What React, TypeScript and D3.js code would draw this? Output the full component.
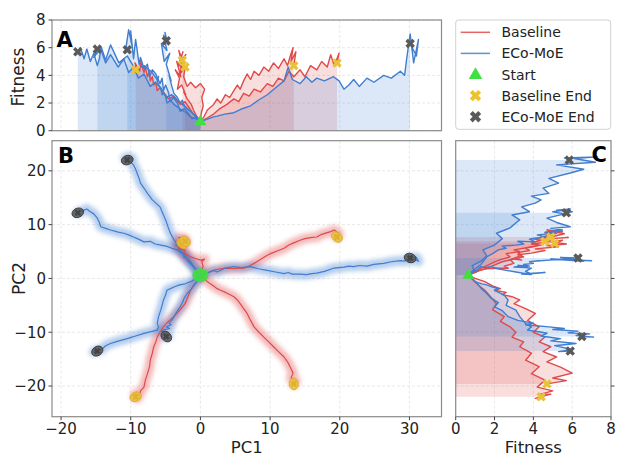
import React from 'react';
import * as d3 from 'd3';

type Pt = [number, number, number]; // [pc1, pc2, fitness]

// Baseline runs
const baselineRun1: Pt[] = [
  [0, 0.6, 0.65], [-0.5, -0.5, 0.95], [-1.0, -1.3, 1.2], [-1.4, -2.2, 1.5], [-1.8, -3.4, 1.8],
  [-2.2, -4.7, 2.1], [-2.9, -5.8, 1.9], [-3.8, -7.1, 2.5], [-4.6, -8.0, 2.3], [-5.3, -9.0, 2.8],
  [-5.8, -10.0, 3.1], [-6.2, -10.9, 2.9], [-6.4, -11.8, 3.5], [-6.7, -12.7, 3.3], [-6.9, -13.9, 3.9],
  [-7.2, -15.2, 3.6], [-7.3, -16.4, 4.3], [-7.6, -17.7, 3.9], [-7.9, -18.9, 4.6], [-8.1, -20.2, 4.2],
  [-8.6, -20.9, 5.0], [-8.7, -21.6, 4.3], [-9.4, -21.5, 4.9], [-9.0, -22.3, 4.1], [-9.3, -22.0, 4.4],
];
const baselineRun2: Pt[] = [
  [0, 0.6, 0.65], [0.1, 1.4, 1.2], [0.4, 2.2, 1.8], [0.2, 3.1, 2.4], [0.6, 3.6, 3.0], [0.0, 3.4, 3.4],
  [-0.7, 3.7, 3.1], [-1.4, 4.0, 3.5], [-1.9, 4.4, 3.2], [-2.4, 4.7, 3.9], [-2.2, 5.2, 4.6], [-2.9, 5.5, 4.1],
  [-2.6, 5.9, 5.3], [-3.2, 6.1, 4.7], [-2.5, 6.4, 5.7], [-3.0, 6.8, 4.9], [-2.1, 7.1, 5.5], [-2.6, 6.5, 5.1],
];
const baselineRun3: Pt[] = [
  [0, 0.6, 0.65], [-0.5, 1.4, 1.0], [-1.0, 2.2, 1.5], [-1.3, 2.9, 1.9], [-1.9, 3.5, 2.3], [-2.4, 4.0, 2.8],
  [-2.1, 4.6, 2.6], [-2.7, 5.0, 3.3], [-3.3, 5.3, 3.0], [-3.0, 5.8, 3.8], [-3.6, 6.2, 4.4], [-2.8, 6.4, 3.9],
  [-3.4, 6.9, 5.0], [-2.5, 7.3, 4.4], [-3.1, 7.6, 5.8], [-2.4, 7.4, 4.8], [-2.2, 6.9, 4.6],
];
const baselineRun4: Pt[] = [
  [0, 0.6, 0.65], [0.9, 1.0, 0.9], [1.9, 1.5, 1.2], [2.8, 1.8, 1.6], [3.8, 1.9, 1.9], [4.8, 1.8, 2.3],
  [5.5, 1.9, 2.1], [6.2, 1.9, 2.7], [7.0, 2.3, 2.5], [7.7, 2.8, 3.0], [8.6, 3.5, 2.8], [9.6, 4.3, 3.4],
  [10.4, 4.8, 3.2], [11.2, 5.2, 3.8], [12.0, 5.6, 3.6], [12.7, 6.2, 4.3], [13.4, 6.6, 3.9], [14.3, 7.1, 4.4],
  [15.0, 7.4, 3.9], [15.8, 7.6, 4.7], [16.7, 7.7, 4.4], [17.4, 8.2, 5.0], [18.2, 8.5, 4.6], [18.7, 8.7, 5.5],
  [19.2, 9.0, 4.7], [19.9, 8.3, 5.6], [19.6, 7.7, 4.9],
];
const baselineRun5: Pt[] = [
  [0, 0.6, 0.65], [0.5, 0.0, 1.0], [1.0, -0.6, 1.5], [1.9, -1.4, 1.9], [2.4, -1.9, 2.3], [2.9, -2.2, 2.0],
  [3.6, -2.6, 2.6], [4.2, -3.0, 2.4], [4.8, -3.4, 2.9], [5.3, -4.0, 3.3], [5.7, -4.7, 3.0], [6.2, -5.6, 3.6],
  [6.7, -6.5, 4.1], [7.2, -7.8, 3.7], [7.7, -9.0, 4.3], [8.4, -10.0, 4.0], [9.1, -10.9, 4.6], [9.8, -11.8, 4.3],
  [10.5, -12.7, 4.9], [11.2, -13.6, 4.5], [12.0, -14.6, 5.2], [12.5, -15.5, 4.7], [12.9, -16.5, 5.4],
  [13.3, -17.6, 6.0], [13.0, -18.5, 5.0], [13.7, -19.0, 5.7], [13.4, -19.6, 4.7],
];

// ECo-MoE runs
const ecoRun1: Pt[] = [
  [0, 0.6, 0.65], [-0.6, 1.5, 0.95], [-1.2, 2.4, 0.85], [-1.8, 3.2, 1.3], [-2.3, 4.2, 1.6], [-2.9, 5.3, 1.4],
  [-3.3, 6.2, 2.0], [-3.9, 7.4, 2.4], [-4.3, 8.4, 2.1], [-4.6, 9.4, 2.8], [-5.0, 10.9, 3.3], [-5.3, 11.8, 2.9],
  [-5.5, 12.4, 3.8], [-5.8, 13.3, 3.4], [-6.4, 14.0, 4.1], [-6.9, 14.6, 4.4], [-7.3, 15.3, 3.9], [-7.6, 15.8, 4.8],
  [-8.1, 16.8, 4.5], [-8.6, 17.7, 5.3], [-8.8, 18.6, 4.8], [-9.1, 19.6, 5.9], [-9.3, 20.3, 6.6], [-9.6, 21.1, 5.2],
  [-10.0, 21.6, 7.2], [-9.8, 22.3, 6.1], [-10.3, 22.6, 7.3], [-10.8, 22.4, 5.6], [-10.5, 22.0, 5.85],
];
const ecoRun2: Pt[] = [
  [0, 0.6, 0.65], [-0.5, 1.5, 0.9], [-1.2, 2.6, 1.3], [-1.9, 4.0, 1.6], [-2.6, 4.6, 1.9], [-3.3, 5.3, 2.2],
  [-4.1, 5.6, 2.6], [-4.9, 6.0, 2.4], [-5.7, 6.2, 3.1], [-6.5, 6.4, 3.5], [-7.2, 6.9, 3.2], [-8.1, 6.8, 4.1],
  [-8.9, 7.3, 3.8], [-9.6, 7.7, 4.6], [-10.3, 8.1, 4.2], [-11.0, 8.4, 5.2], [-11.8, 8.6, 4.6], [-12.9, 9.0, 5.5],
  [-13.6, 9.3, 4.9], [-14.3, 9.6, 5.9], [-14.5, 10.4, 5.2], [-14.8, 11.2, 4.7], [-15.3, 12.0, 5.6],
  [-15.8, 12.4, 5.0], [-16.3, 12.9, 5.9], [-16.7, 12.7, 5.2], [-17.2, 12.4, 6.0], [-17.6, 12.2, 5.7],
];
const ecoRun3: Pt[] = [
  [0, 0.6, 0.65], [0.8, 0.9, 0.8], [1.9, 1.5, 1.0], [2.4, 1.2, 1.05], [3.5, 1.9, 1.2], [4.8, 2.2, 1.3],
  [5.8, 2.0, 1.55], [7.2, 2.2, 1.8], [8.3, 1.8, 2.2], [9.6, 1.5, 2.6], [10.8, 1.2, 3.1], [12.0, 0.9, 3.6],
  [12.6, 1.1, 4.6], [13.2, 0.8, 3.7], [14.3, 0.8, 3.4], [15.2, 0.7, 3.9], [16.0, 0.9, 3.5], [16.7, 1.0, 3.8],
  [17.8, 1.3, 3.6], [19.1, 1.9, 3.9], [19.9, 2.0, 3.6], [20.6, 2.1, 3.0], [21.3, 2.3, 3.3], [22.0, 2.2, 3.7],
  [22.8, 2.4, 3.2], [23.9, 2.3, 3.8], [24.9, 2.6, 3.5], [26.3, 2.8, 4.0], [27.4, 3.1, 3.8], [28.7, 3.3, 4.3],
  [29.3, 3.2, 4.0], [29.6, 3.5, 5.2], [30.1, 3.3, 7.0], [30.6, 3.6, 4.9], [31.3, 3.2, 6.6], [31.0, 3.9, 5.4],
  [30.1, 3.8, 6.3],
];
const ecoRun4: Pt[] = [
  [0, 0.6, 0.65], [-0.3, -0.2, 0.9], [-0.7, -0.9, 1.1], [-1.2, -1.8, 1.3], [-1.9, -2.8, 1.6], [-2.3, -3.6, 1.8],
  [-2.6, -4.5, 2.2], [-2.9, -5.3, 2.0], [-3.3, -6.0, 2.4], [-3.8, -7.1, 2.7], [-4.1, -7.8, 3.2], [-4.5, -8.3, 4.0],
  [-4.2, -8.6, 3.6], [-4.9, -9.0, 4.8], [-4.4, -9.3, 5.6], [-5.2, -9.5, 5.0], [-5.6, -9.8, 6.3], [-4.8, -10.1, 5.8],
  [-5.3, -10.3, 6.9], [-4.6, -10.6, 6.2], [-5.1, -10.9, 7.1], [-4.9, -10.8, 6.5],
];
const ecoRun5: Pt[] = [
  [0, 0.6, 0.65], [-0.6, 0.0, 0.85], [-1.4, -0.6, 1.0], [-2.2, -1.0, 1.35], [-3.0, -1.2, 1.6], [-3.8, -1.6, 1.9],
  [-4.3, -1.9, 2.2], [-4.8, -2.2, 2.0], [-5.0, -3.1, 2.5], [-5.3, -4.0, 2.7], [-5.5, -5.0, 2.6], [-5.7, -5.9, 3.1],
  [-6.0, -7.1, 3.3], [-6.2, -8.4, 3.6], [-6.0, -9.0, 3.9], [-6.2, -9.6, 3.7], [-7.1, -9.9, 4.3], [-8.1, -10.2, 4.7],
  [-9.3, -10.7, 4.4], [-10.5, -11.2, 5.4], [-11.7, -11.6, 4.9], [-12.9, -12.1, 6.2], [-13.6, -12.5, 5.1],
  [-14.2, -13.2, 6.0], [-15.3, -13.6, 5.3], [-14.8, -13.5, 5.9],
];

const startPoint: Pt = [0, 0.6, 0.65];
const baselineRuns = [baselineRun1, baselineRun2, baselineRun3, baselineRun4, baselineRun5];
const ecoRuns = [ecoRun1, ecoRun2, ecoRun3, ecoRun4, ecoRun5];

const pc1Ticks = [-20, -10, 0, 10, 20, 30];
const pc2Ticks = [-20, -10, 0, 10, 20];
const fitnessTicks = [0, 2, 4, 6, 8];
const legendLabels = ['Baseline', 'ECo-MoE', 'Start', 'Baseline End', 'ECo-MoE End'];

const RED = '#e04a4a';
const BLUE = '#3f7ed0';
const YELLOW = '#e8c237';
const GRAY = '#5a5a5a';
const GREEN = '#3fe03f';
const FONT = 'DejaVu Sans, sans-serif';

const xPc1 = d3.scaleLinear().domain([-21.3, 34.6]).range([52, 441.5]);
const yFitA = d3.scaleLinear().domain([0, 8]).range([130.7, 20]);
const yPc2 = d3.scaleLinear().domain([-25.7, 25.6]).range([416.7, 140.7]);
const xFitC = d3.scaleLinear().domain([0, 8]).range([455.7, 611]);

const minus = (v: number) => String(v).replace('-', '\u2212');

// filled "X" marker like matplotlib's 'X'
function xMarker(cx: number, cy: number, s: number) {
  const w = 0.34;
  const pts = [[w, 1], [w, w], [1, w], [1, -w], [w, -w], [w, -1], [-w, -1], [-w, -w], [-1, -w], [-1, w], [-w, w], [-w, 1]];
  return 'M' + pts.map(([x, y]) => `${cx + (s * (x - y)) / Math.SQRT2},${cy + (s * (x + y)) / Math.SQRT2}`).join('L') + 'Z';
}

const triangle = d3.symbol(d3.symbolTriangle, 62)();

export default function App() {
  const lineA = d3.line<Pt>().x((d) => xPc1(d[0])).y((d) => yFitA(d[2]));
  const areaA = d3.area<Pt>().x((d) => xPc1(d[0])).y0(yFitA(0)).y1((d) => yFitA(d[2]));
  const lineB = d3.line<Pt>().x((d) => xPc1(d[0])).y((d) => yPc2(d[1]));
  const lineC = d3.line<Pt>().x((d) => xFitC(d[2])).y((d) => yPc2(d[1]));
  const areaC = d3.area<Pt>().y((d) => yPc2(d[1])).x0(xFitC(0)).x1((d) => xFitC(d[2]));

  const runs = [
    ...baselineRuns.map((pts) => ({ pts, color: RED, end: YELLOW })),
    ...ecoRuns.map((pts) => ({ pts, color: BLUE, end: GRAY })),
  ];

  const [ax0, ax1] = xPc1.range();
  const [ay1, ay0] = yFitA.range();
  const [by1, by0] = yPc2.range();
  const [cx0, cx1] = xFitC.range();

  const grid = { stroke: '#e2e2e2', strokeWidth: 0.8, strokeDasharray: '3,2' };
  const spine = { fill: 'none', stroke: '#8a8a8a', strokeWidth: 1.2 };
  const tickStyle = { stroke: '#444', strokeWidth: 1 };

  return (
    <svg width={621} height={457} style={{ position: 'absolute', left: 0, top: 0 }} fontFamily={FONT}>
      <defs>
        <clipPath id="clipA"><rect x={ax0} y={ay0} width={ax1 - ax0} height={ay1 - ay0} /></clipPath>
        <clipPath id="clipB"><rect x={ax0} y={by0} width={ax1 - ax0} height={by1 - by0} /></clipPath>
        <clipPath id="clipC"><rect x={cx0} y={by0} width={cx1 - cx0} height={by1 - by0} /></clipPath>
        <filter id="halo" x="-10%" y="-10%" width="120%" height="120%">
          <feGaussianBlur stdDeviation="2.2" />
        </filter>
      </defs>
      <rect width={621} height={457} fill="#fff" />

      {/* ---------- Panel A ---------- */}
      <g>
        {fitnessTicks.map((t) => (
          <line key={'ag' + t} x1={ax0} x2={ax1} y1={yFitA(t)} y2={yFitA(t)} {...grid} />
        ))}
        {pc1Ticks.map((t) => (
          <line key={'agv' + t} x1={xPc1(t)} x2={xPc1(t)} y1={ay0} y2={ay1} {...grid} />
        ))}
        <g clipPath="url(#clipA)">
          {runs.map((r, i) => (
            <path key={'aa' + i} d={areaA(r.pts) || ''} fill={r.color} fillOpacity={0.18} stroke="none" />
          ))}
          {runs.map((r, i) => (
            <path key={'al' + i} d={lineA(r.pts) || ''} fill="none" stroke={r.color} strokeWidth={1.4} strokeLinejoin="round" />
          ))}
          {runs.map((r, i) => {
            const e = r.pts[r.pts.length - 1];
            return <path key={'ax' + i} d={xMarker(xPc1(e[0]), yFitA(e[2]), 5)} fill={r.end} />;
          })}
          <path d={triangle} transform={`translate(${xPc1(startPoint[0])},${yFitA(startPoint[2])})`} fill={GREEN} />
        </g>
        <rect x={ax0} y={ay0} width={ax1 - ax0} height={ay1 - ay0} {...spine} />
        {fitnessTicks.map((t) => (
          <g key={'at' + t}>
            <line x1={ax0 - 3.5} x2={ax0} y1={yFitA(t)} y2={yFitA(t)} {...tickStyle} />
            <text x={ax0 - 6.5} y={yFitA(t)} dy="0.36em" textAnchor="end" fontSize={15} fill="#222">{t}</text>
          </g>
        ))}
        <text transform={`translate(23.5,77) rotate(-90)`} textAnchor="middle" fontSize={17} fill="#222">Fitness</text>
        <text x={56.5} y={46.7} fontSize={21} fontWeight="bold" fill="#000">A</text>
      </g>

      {/* ---------- Panel B ---------- */}
      <g>
        {pc2Ticks.map((t) => (
          <line key={'bg' + t} x1={ax0} x2={ax1} y1={yPc2(t)} y2={yPc2(t)} {...grid} />
        ))}
        {pc1Ticks.map((t) => (
          <line key={'bgv' + t} x1={xPc1(t)} x2={xPc1(t)} y1={by0} y2={by1} {...grid} />
        ))}
        <g clipPath="url(#clipB)">
          <g filter="url(#halo)">
            {runs.map((r, i) => (
              <path key={'bh' + i} d={lineB(r.pts) || ''} fill="none" stroke={r.color} strokeOpacity={0.38}
                strokeWidth={10} strokeLinecap="round" strokeLinejoin="round" />
            ))}
          </g>
          {runs.map((r, i) => (
            <path key={'bl' + i} d={lineB(r.pts) || ''} fill="none" stroke={r.color} strokeWidth={1.2} strokeLinejoin="round" />
          ))}
          <ellipse cx={xPc1(startPoint[0])} cy={yPc2(startPoint[1])} rx={8} ry={7} fill={GREEN} fillOpacity={0.9} />
          {runs.map((r, i) => {
            const e = r.pts[r.pts.length - 1];
            const p = r.pts[r.pts.length - 4];
            const ang = (Math.atan2(yPc2(e[1]) - yPc2(p[1]), xPc1(e[0]) - xPc1(p[0])) * 180) / Math.PI;
            const x = xPc1(e[0]);
            const y = yPc2(e[1]);
            return (
              <g key={'be' + i}>
                <ellipse cx={x} cy={y} rx={6} ry={4.6} transform={`rotate(${ang},${x},${y})`}
                  fill={r.end} fillOpacity={0.9} stroke={r.end === GRAY ? '#333' : '#d9a82a'} strokeWidth={0.8} />
                <path d={xMarker(x, y, 3.4)} fill={r.end === GRAY ? '#444' : '#e0b030'} />
              </g>
            );
          })}
        </g>
        <rect x={ax0} y={by0} width={ax1 - ax0} height={by1 - by0} {...spine} />
        {pc2Ticks.map((t) => (
          <g key={'bt' + t}>
            <line x1={ax0 - 3.5} x2={ax0} y1={yPc2(t)} y2={yPc2(t)} {...tickStyle} />
            <text x={ax0 - 6} y={yPc2(t)} dy="0.36em" textAnchor="end" fontSize={15} fill="#222">{minus(t)}</text>
          </g>
        ))}
        {pc1Ticks.map((t) => (
          <g key={'bx' + t}>
            <line x1={xPc1(t)} x2={xPc1(t)} y1={by1} y2={by1 + 3.5} {...tickStyle} />
            <text x={xPc1(t)} y={433.5} textAnchor="middle" fontSize={15} fill="#222">{minus(t)}</text>
          </g>
        ))}
        <text x={(ax0 + ax1) / 2} y={453} textAnchor="middle" fontSize={16.5} fill="#222">PC1</text>
        <text transform={`translate(24.5,278.5) rotate(-90)`} textAnchor="middle" fontSize={17} fill="#222">PC2</text>
        <text x={58} y={163} fontSize={21} fontWeight="bold" fill="#000">B</text>
      </g>

      {/* ---------- Panel C ---------- */}
      <g>
        {pc2Ticks.map((t) => (
          <line key={'cg' + t} x1={cx0} x2={cx1} y1={yPc2(t)} y2={yPc2(t)} {...grid} />
        ))}
        {fitnessTicks.map((t) => (
          <line key={'cgv' + t} x1={xFitC(t)} x2={xFitC(t)} y1={by0} y2={by1} {...grid} />
        ))}
        <g clipPath="url(#clipC)">
          {runs.map((r, i) => (
            <path key={'ca' + i} d={areaC(r.pts) || ''} fill={r.color} fillOpacity={0.18} stroke="none" />
          ))}
          {runs.map((r, i) => (
            <path key={'cl' + i} d={lineC(r.pts) || ''} fill="none" stroke={r.color} strokeWidth={1.4} strokeLinejoin="round" />
          ))}
          {runs.map((r, i) => {
            const e = r.pts[r.pts.length - 1];
            return <path key={'cx' + i} d={xMarker(xFitC(e[2]), yPc2(e[1]), 5)} fill={r.end} />;
          })}
          <path d={triangle} transform={`translate(${xFitC(startPoint[2])},${yPc2(startPoint[1])})`} fill={GREEN} />
        </g>
        <rect x={cx0} y={by0} width={cx1 - cx0} height={by1 - by0} {...spine} />
        {fitnessTicks.map((t) => (
          <g key={'ct' + t}>
            <line x1={xFitC(t)} x2={xFitC(t)} y1={by1} y2={by1 + 3.5} {...tickStyle} />
            <text x={xFitC(t)} y={433.5} textAnchor="middle" fontSize={15} fill="#222">{t}</text>
          </g>
        ))}
        {pc2Ticks.map((t) => (
          <line key={'cr' + t} x1={cx1} x2={cx1 + 3.5} y1={yPc2(t)} y2={yPc2(t)} {...tickStyle} />
        ))}
        <text x={(cx0 + cx1) / 2} y={453} textAnchor="middle" fontSize={16.5} fill="#222">Fitness</text>
        <text x={607} y={161.7} textAnchor="end" fontSize={21} fontWeight="bold" fill="#000">C</text>
      </g>

      {/* ---------- Legend ---------- */}
      <g>
        <rect x={455.7} y={20} width={155} height={109.3} rx={3} fill="#fff" stroke="#d0d0d0" strokeWidth={1} />
        {legendLabels.map((lab, i) => {
          const y = 32.3 + i * 21.1;
          let handle: React.ReactNode = null;
          if (i === 0) handle = <line x1={460.7} x2={490} y1={y} y2={y} stroke={RED} strokeOpacity={0.85} strokeWidth={1.5} />;
          if (i === 1) handle = <line x1={460.7} x2={490} y1={y} y2={y} stroke={BLUE} strokeOpacity={0.85} strokeWidth={1.5} />;
          if (i === 2) handle = <path d={d3.symbol(d3.symbolTriangle, 80)() || ''} transform={`translate(475.5,${y + 0.5})`} fill={GREEN} />;
          if (i === 3) handle = <path d={xMarker(475.5, y, 6)} fill={YELLOW} />;
          if (i === 4) handle = <path d={xMarker(475.5, y, 6)} fill={GRAY} />;
          return (
            <g key={lab}>
              {handle}
              <text x={501.5} y={y} dy="0.36em" fontSize={14} fill="#222">{lab}</text>
            </g>
          );
        })}
      </g>
    </svg>
  );
}
